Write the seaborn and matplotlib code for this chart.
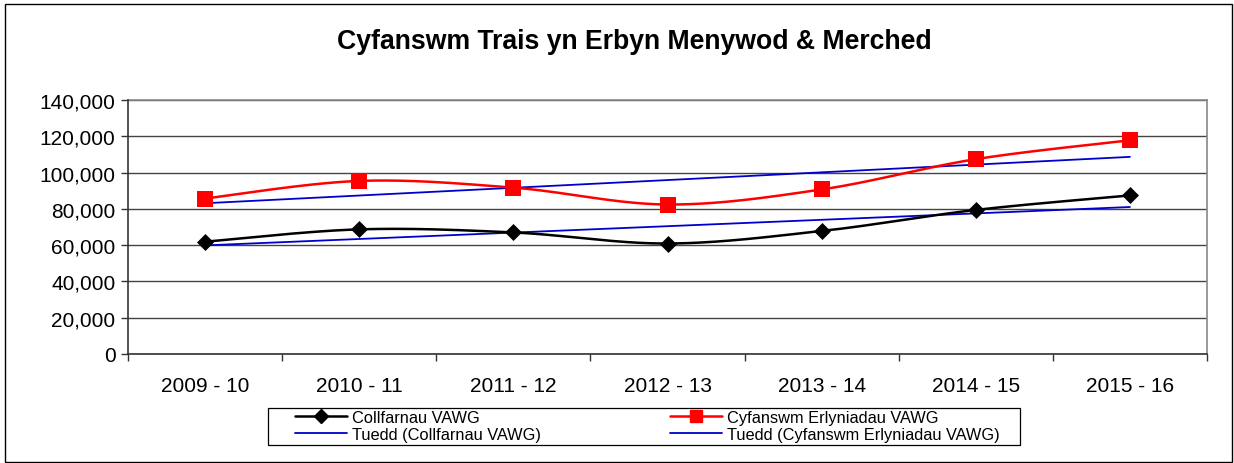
import numpy as np
import pandas as pd
import matplotlib
matplotlib.use("Agg")
import matplotlib.pyplot as plt
from matplotlib.lines import Line2D
from matplotlib.patches import Rectangle
import seaborn as sns

# ---- data ----
years = ["2009 - 10", "2010 - 11", "2011 - 12", "2012 - 13", "2013 - 14", "2014 - 15", "2015 - 16"]
collfarnau = [61900, 68700, 67000, 60900, 67800, 79400, 87400]
erlyniadau = [85700, 95400, 91700, 82400, 90700, 107400, 117800]
yticks = [0, 20000, 40000, 60000, 80000, 100000, 120000, 140000]
title = "Cyfanswm Trais yn Erbyn Menywod & Merched"
lab_coll = "Collfarnau VAWG"
lab_erl = "Cyfanswm Erlyniadau VAWG"
lab_tr_coll = "Tuedd (Collfarnau VAWG)"
lab_tr_erl = "Tuedd (Cyfanswm Erlyniadau VAWG)"

sns.set_style("white")
plt.rcParams["font.family"] = ["Liberation Sans", "DejaVu Sans"]
plt.rcParams["text.color"] = "black"
plt.rcParams["xtick.color"] = "black"
plt.rcParams["ytick.color"] = "black"

W, H = 1234, 464
fig = plt.figure(figsize=(W / 100, H / 100), dpi=100)
ax = fig.add_axes([128 / W, 1 - 355 / H, (1207 - 128) / W, (355 - 101) / H])

x = np.arange(len(years))


def smooth(xs, ys, n=40):
    """Excel-like smoothed line (cubic Bezier with Catmull-Rom control points)."""
    xs = np.asarray(xs, float)
    ys = np.asarray(ys, float)
    P = np.column_stack([xs, ys])
    out = []
    for i in range(len(P) - 1):
        p0 = P[i - 1] if i > 0 else P[i]
        p1 = P[i]
        p2 = P[i + 1]
        p3 = P[i + 2] if i + 2 < len(P) else P[i + 1]
        c1 = p1 + (p2 - p0) / 6.0
        c2 = p2 - (p3 - p1) / 6.0
        t = np.linspace(0, 1, n)[:, None]
        seg = ((1 - t) ** 3) * p1 + 3 * ((1 - t) ** 2) * t * c1 + 3 * (1 - t) * t ** 2 * c2 + t ** 3 * p2
        out.append(seg if i == 0 else seg[1:])
    return np.vstack(out)


def trend(ys):
    k, b = np.polyfit(x, ys, 1)
    return k * x + b


blue = "#0000CC"
c_s = smooth(x, collfarnau)
e_s = smooth(x, erlyniadau)

# trend lines
sns.lineplot(x=x, y=trend(erlyniadau), ax=ax, color=blue, lw=1.3, zorder=3)
sns.lineplot(x=x, y=trend(collfarnau), ax=ax, color=blue, lw=1.3, zorder=3)
# smoothed series
sns.lineplot(x=e_s[:, 0], y=e_s[:, 1], ax=ax, color="red", lw=1.8, sort=False, zorder=4)
sns.lineplot(x=c_s[:, 0], y=c_s[:, 1], ax=ax, color="black", lw=1.8, sort=False, zorder=4)
# markers
sns.scatterplot(x=x, y=erlyniadau, ax=ax, marker="s", s=120, color="red", edgecolor="red", linewidth=0, zorder=5)
sns.scatterplot(x=x, y=collfarnau, ax=ax, marker="D", s=75, color="black", edgecolor="black", linewidth=0, zorder=5)

ax.set_xlim(-0.5, len(years) - 0.5)
ax.set_ylim(0, 140000)
ax.set_yticks(yticks)
ax.set_yticklabels([f"{v:,}" for v in yticks], fontsize=15)
ax.set_xticks(np.arange(-0.5, len(years)), minor=False)
ax.set_xticklabels([])
ax.set_xticks(x, minor=True)
ax.set_xticklabels(years, minor=True, fontsize=15)
ax.tick_params(axis="x", which="major", direction="out", length=5, width=1, color="#333333", bottom=True)
ax.tick_params(axis="x", which="minor", length=0, pad=16)
ax.tick_params(axis="y", direction="out", length=5, width=1, color="#333333", left=True, pad=4)
ax.grid(axis="y", color="#444444", lw=1)
ax.set_axisbelow(True)
ax.set_xlabel("")
ax.set_ylabel("")
for s in ["left", "bottom"]:
    ax.spines[s].set_color("#333333")
    ax.spines[s].set_linewidth(1.2)
for s in ["top", "right"]:
    ax.spines[s].set_visible(True)
    ax.spines[s].set_color("#888888")
    ax.spines[s].set_linewidth(1.2)
ax.spines["left"].set_zorder(6)

fig.text(634 / W, 1 - 42 / H, title, ha="center", va="center", fontsize=19.2, fontweight="bold", color="black")

# outer chart frame
fig.patches.append(Rectangle((5 / W, 1 / H), (1232 - 5) / W, (463 - 5) / H, transform=fig.transFigure,
                             fill=False, edgecolor="black", lw=1))
# legend frame
fig.patches.append(Rectangle((268 / W, 1 - 446 / H), (1020 - 268) / W, (446 - 409) / H, transform=fig.transFigure,
                             fill=False, edgecolor="black", lw=0.9))

handles = [
    Line2D([], [], color="black", lw=1.8, marker="D", markersize=7),
    Line2D([], [], color=blue, lw=1.3),
    Line2D([], [], color="red", lw=1.8, marker="s", markersize=9),
    Line2D([], [], color=blue, lw=1.3),
]
labels = [lab_coll, lab_tr_coll, lab_erl, lab_tr_erl]
fig.legend(handles, labels, loc="upper left", bbox_to_anchor=(295 / W, 1 - 411 / H), ncol=2,
           frameon=False, fontsize=11.8, borderpad=0, borderaxespad=0, handlelength=3.17,
           handletextpad=0.3, labelspacing=0.12, columnspacing=7.9, labelcolor="black")

fig.savefig("out.png", dpi=100)
